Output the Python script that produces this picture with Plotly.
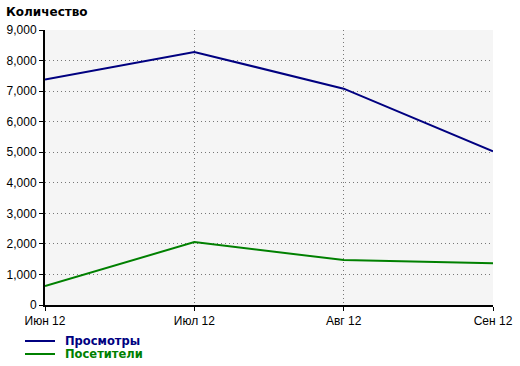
import plotly.graph_objects as go

months = ["Июн 12", "Июл 12", "Авг 12", "Сен 12"]
views = [7380, 8280, 7080, 5030]
visitors = [620, 2060, 1470, 1370]
y_ticks = [0, 1000, 2000, 3000, 4000, 5000, 6000, 7000, 8000, 9000]
series_names = ["Просмотры", "Посетители"]
series_colors = ["#000080", "#008000"]

W, H = 520, 366
L, R, T, B = 45, 27, 30, 61
PW, PH = W - L - R, H - T - B

xs = list(range(len(months)))
fig = go.Figure()
for vals, name, col in zip([views, visitors], series_names, series_colors):
    fig.add_trace(go.Scatter(x=xs, y=vals, mode="lines", line=dict(color=col, width=2),
                             name=name, showlegend=False))

grid = dict(showgrid=True, gridcolor="#777777", griddash="1px,3px", gridwidth=1,
            showline=True, linecolor="black", linewidth=2,
            ticks="outside", ticklen=4, tickcolor="black", zeroline=False, automargin=False)

fig.update_layout(
    width=W, height=H,
    margin=dict(l=L, r=R, t=T, b=B, autoexpand=False),
    paper_bgcolor="white", plot_bgcolor="#f5f5f5",
    font=dict(family="Liberation Sans, Arial, sans-serif", size=12, color="#000000"),
    showlegend=False,
    xaxis=dict(range=[0, 3], tickvals=xs, ticktext=months, **grid),
    yaxis=dict(range=[0, 9000], tickvals=y_ticks, tickformat=",d", **grid),
)

def px_x(p):
    return (p - L) / PW

def px_y(p):
    return (H - B - p) / PH

bold_font = "DejaVu Sans, Verdana, sans-serif"
fig.add_annotation(text="<b>Количество</b>", xref="paper", yref="paper",
                   x=px_x(4), y=px_y(12), xanchor="left", yanchor="middle",
                   showarrow=False, font=dict(family=bold_font, size=12, color="black"))

# manual legend
for i, (name, col) in enumerate(zip(series_names, series_colors)):
    yy = 341 + 13 * i
    fig.add_shape(type="line", xref="paper", yref="paper",
                  x0=px_x(25), x1=px_x(55), y0=px_y(yy), y1=px_y(yy),
                  line=dict(color=col, width=2))
    fig.add_annotation(text=f"<b>{name}</b>", xref="paper", yref="paper",
                       x=px_x(63), y=px_y(yy), xanchor="left", yanchor="middle",
                       showarrow=False, font=dict(family=bold_font, size=11.5, color=col))
fig.write_html("out.html")
